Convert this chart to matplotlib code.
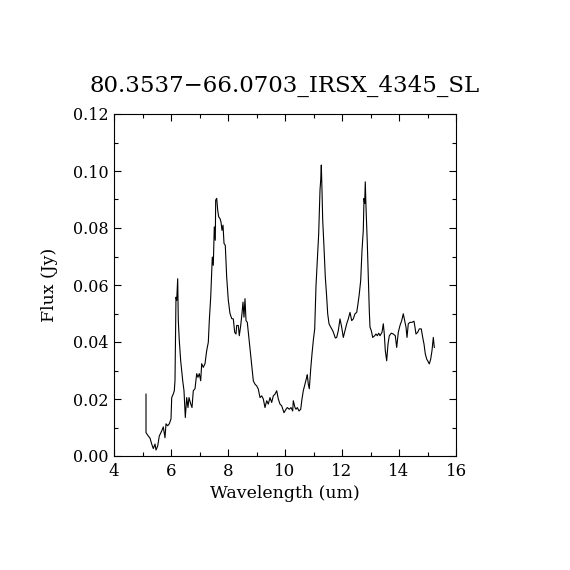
import matplotlib
matplotlib.use("Agg")
import matplotlib.pyplot as plt
from matplotlib.ticker import MultipleLocator, FormatStrFormatter

# spectrum
wavelength = [
    5.123, 5.123, 5.204, 5.263, 5.323, 5.379, 5.439, 5.474, 5.533, 5.589,
    5.674, 5.730, 5.789, 5.825, 5.884, 5.940, 6.000, 6.025, 6.081, 6.116,
    6.140, 6.175, 6.200, 6.235, 6.256, 6.291, 6.340, 6.411, 6.456, 6.502,
    6.551, 6.596, 6.632, 6.691, 6.737, 6.782, 6.842, 6.902, 6.947, 6.993,
    7.042, 7.077, 7.133, 7.193, 7.253, 7.309, 7.344, 7.393, 7.449, 7.484,
    7.519, 7.554, 7.568, 7.604, 7.639, 7.674, 7.719, 7.754, 7.789, 7.825,
    7.860, 7.905, 7.954, 8.011, 8.070, 8.130, 8.186, 8.235, 8.281, 8.305,
    8.361, 8.396, 8.446, 8.491, 8.526, 8.561, 8.596, 8.632, 8.677, 8.726,
    8.772, 8.832, 8.888, 8.947, 9.007, 9.063, 9.123, 9.182, 9.239, 9.298,
    9.358, 9.414, 9.474, 9.533, 9.589, 9.649, 9.709, 9.765, 9.825, 9.884,
    9.965, 10.035, 10.081, 10.151, 10.211, 10.270, 10.291, 10.351, 10.386, 10.432,
    10.491, 10.551, 10.596, 10.642, 10.702, 10.761, 10.782, 10.818, 10.853, 10.902,
    10.947, 10.993, 11.042, 11.088, 11.133, 11.182, 11.228, 11.253, 11.274, 11.298,
    11.323, 11.368, 11.414, 11.463, 11.498, 11.544, 11.604, 11.674, 11.719, 11.765,
    11.814, 11.870, 11.930, 11.989, 12.046, 12.105, 12.165, 12.221, 12.281, 12.340,
    12.396, 12.456, 12.516, 12.561, 12.607, 12.656, 12.702, 12.747, 12.772, 12.796,
    12.817, 12.842, 12.888, 12.937, 12.958, 12.982, 13.028, 13.077, 13.147, 13.193,
    13.239, 13.288, 13.333, 13.404, 13.449, 13.484, 13.519, 13.568, 13.614, 13.660,
    13.730, 13.800, 13.870, 13.919, 13.975, 14.035, 14.095, 14.151, 14.200, 14.246,
    14.281, 14.326, 14.386, 14.456, 14.526, 14.561, 14.596, 14.656, 14.712, 14.782,
    14.832, 14.877, 14.923, 14.972, 15.018, 15.063, 15.112, 15.158, 15.204, 15.239,
]
flux = [
    0.0217, 0.0082, 0.0070, 0.0063, 0.0042, 0.0026, 0.0042, 0.0021, 0.0035, 0.0070,
    0.0088, 0.0102, 0.0064, 0.0113, 0.0106, 0.0113, 0.0130, 0.0205, 0.0218, 0.0229,
    0.0264, 0.0557, 0.0546, 0.0622, 0.0475, 0.0405, 0.0334, 0.0264, 0.0229, 0.0135,
    0.0205, 0.0170, 0.0205, 0.0183, 0.0170, 0.0229, 0.0236, 0.0289, 0.0276, 0.0289,
    0.0264, 0.0324, 0.0311, 0.0324, 0.0370, 0.0399, 0.0475, 0.0557, 0.0698, 0.0669,
    0.0804, 0.0757, 0.0898, 0.0904, 0.0862, 0.0839, 0.0833, 0.0821, 0.0792, 0.0810,
    0.0746, 0.0739, 0.0628, 0.0546, 0.0500, 0.0482, 0.0481, 0.0434, 0.0428, 0.0458,
    0.0458, 0.0422, 0.0458, 0.0500, 0.0540, 0.0487, 0.0552, 0.0475, 0.0469, 0.0422,
    0.0381, 0.0324, 0.0264, 0.0252, 0.0246, 0.0235, 0.0205, 0.0211, 0.0200, 0.0170,
    0.0194, 0.0182, 0.0205, 0.0188, 0.0211, 0.0217, 0.0229, 0.0200, 0.0182, 0.0176,
    0.0152, 0.0164, 0.0170, 0.0164, 0.0170, 0.0158, 0.0194, 0.0170, 0.0164, 0.0170,
    0.0158, 0.0164, 0.0200, 0.0229, 0.0252, 0.0276, 0.0285, 0.0252, 0.0236, 0.0305,
    0.0358, 0.0405, 0.0446, 0.0598, 0.0686, 0.0780, 0.0933, 0.0968, 0.1021, 0.0933,
    0.0827, 0.0733, 0.0628, 0.0557, 0.0499, 0.0464, 0.0452, 0.0440, 0.0428, 0.0414,
    0.0416, 0.0440, 0.0481, 0.0452, 0.0416, 0.0440, 0.0464, 0.0481, 0.0504, 0.0475,
    0.0481, 0.0499, 0.0504, 0.0534, 0.0569, 0.0616, 0.0722, 0.0792, 0.0904, 0.0886,
    0.0962, 0.0874, 0.0745, 0.0581, 0.0510, 0.0452, 0.0440, 0.0416, 0.0422, 0.0428,
    0.0422, 0.0431, 0.0422, 0.0434, 0.0464, 0.0428, 0.0370, 0.0334, 0.0393, 0.0422,
    0.0431, 0.0428, 0.0422, 0.0381, 0.0434, 0.0458, 0.0475, 0.0499, 0.0475, 0.0452,
    0.0416, 0.0464, 0.0469, 0.0469, 0.0473, 0.0452, 0.0428, 0.0434, 0.0446, 0.0446,
    0.0416, 0.0393, 0.0358, 0.0340, 0.0332, 0.0323, 0.0340, 0.0370, 0.0416, 0.0381,
]

title = "80.3537\u221266.0703_IRSX_4345_SL"

plt.rcParams['font.family'] = ['DejaVu Serif']

fig = plt.figure(figsize=(5.7, 5.7), dpi=100)
ax = fig.add_axes([0.2, 0.2, 0.6, 0.6])

ax.plot(wavelength, flux, color='black', lw=0.8)

ax.set_xlim(4, 16)
ax.set_ylim(0, 0.12)
ax.xaxis.set_major_locator(MultipleLocator(2))
ax.xaxis.set_minor_locator(MultipleLocator(1))
ax.yaxis.set_major_locator(MultipleLocator(0.02))
ax.yaxis.set_minor_locator(MultipleLocator(0.01))
ax.yaxis.set_major_formatter(FormatStrFormatter('%.2f'))

ax.tick_params(which='both', direction='in', top=True, right=True, width=0.8)
ax.tick_params(which='major', length=5)
ax.tick_params(which='minor', length=3)
ax.tick_params(axis='x', labelsize=12, pad=5)
ax.tick_params(axis='y', labelsize=11.5, pad=4)
for s in ax.spines.values():
    s.set_linewidth(0.8)

ax.set_xlabel("Wavelength (um)", fontsize=12.5, labelpad=4)
ax.set_ylabel("Flux (Jy)", fontsize=12.5, labelpad=11)
ax.set_title(title, fontsize=16.5, pad=16)

fig.savefig("out.png", dpi=100)
